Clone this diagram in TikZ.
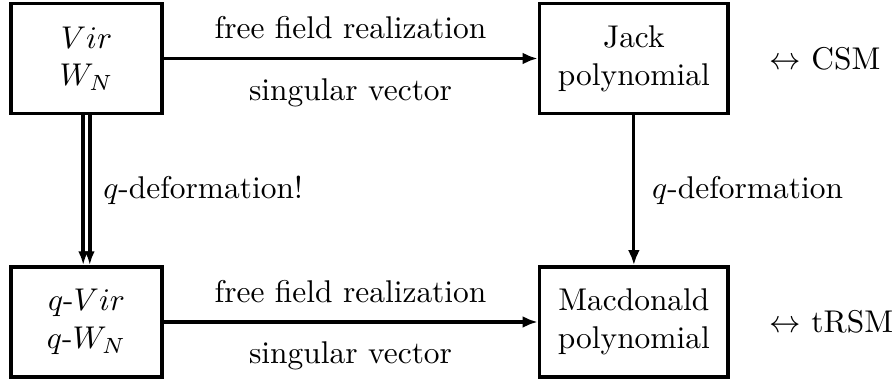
\documentclass[tikz,border=0pt]{standalone}
\usetikzlibrary{arrows.meta,positioning}
\tikzset{
  box/.style={draw, line width=1.2pt, align=center, minimum height=1.23cm},
  arr/.style={-{Latex[length=4.8pt,width=3.8pt]}, line width=1pt},
  dblarr/.style={-{Latex[length=4.4pt,width=3.2pt]}, line width=1.1pt},
}
\begin{document}
\begin{tikzpicture}
  \useasboundingbox (-0.967,0.654) rectangle (9.006,-3.628);

  \node (1) [box, minimum width=1.68cm] {$Vir$\\$W_N$};
  \node (2) [box, minimum width=2.11cm, node distance=6.12cm, right of=1] {Jack\\polynomial};
  \node (3) [box, minimum width=1.68cm, node distance=2.946cm, below of=1] {$q$-$Vir$\\$q$-$W_N$};
  \node (4) [box, minimum width=2.11cm, node distance=6.12cm, right of=3] {Macdonald\\polynomial};

  \node (5) [right=9pt of 2] {$\leftrightarrow$ CSM};
  \node (6) [right=9pt of 4] {$\leftrightarrow$ tRSM};

  \draw [arr, line width=1.2pt] (1) to node [above=2.4pt] {free field realization}
                                      node [below=2.4pt] {singular vector} (2);
  \draw [arr] (3) to node [above=2.4pt] {free field realization}
                     node [below=2.4pt] {singular vector} (4);

  \draw [arr] (2) to node [right=2pt] {$q$-deformation} (4);

  \draw [dblarr] ([xshift=-1.05pt]1.south) to ([xshift=-1.05pt]3.north);
  \draw [dblarr] ([xshift=1.05pt]1.south) to node [right=0.4pt] {$q$-deformation!} ([xshift=1.05pt]3.north);
\end{tikzpicture}
\end{document}
